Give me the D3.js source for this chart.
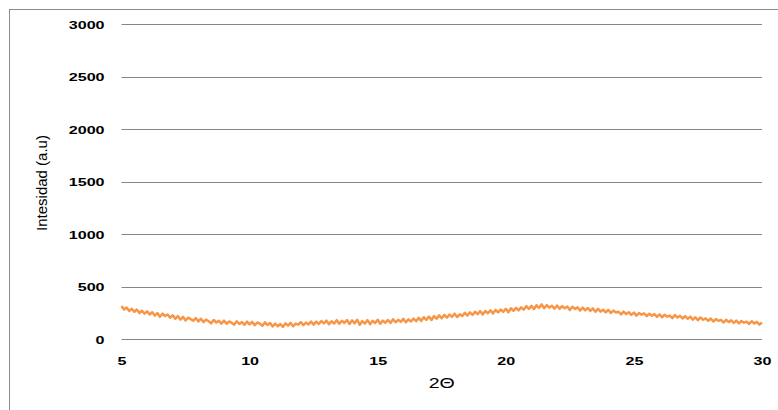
<!DOCTYPE html>
<html>
<head>
<meta charset="utf-8">
<script src="https://cdn.jsdelivr.net/npm/d3@7"></script>
<style>
    body { margin: 0; background: #ffffff; }
    svg { display: block; font-family: "Liberation Sans", Arial, sans-serif; }
</style>
</head>
<body>
<svg id="vis" width="778" height="410"></svg>
<script>
/**
 * Global Variables
 */
// 2theta sampling: first angle and step between readings
var _thetaStart = 5;
var _thetaStep = 0.1;

// intensity readings (a.u), one per 0.1 degree from 5 to 30
var _intensity = [
    318, 284, 302, 270, 290, 262, 284, 250, 272, 244,
    266, 236, 258, 226, 250, 214, 244, 222, 236, 206,
    228, 196, 220, 188, 214, 180, 206, 192, 176, 202,
    170, 196, 164, 188, 172, 152, 184, 160, 176, 150,
    178, 148, 170, 156, 140, 172, 146, 164, 138, 168,
    142, 166, 134, 160, 150, 128, 162, 136, 154, 122,
    150, 124, 146, 118, 152, 130, 156, 124, 150, 140,
    164, 134, 160, 142, 170, 140, 168, 146, 174, 152,
    178, 144, 172, 150, 182, 148, 176, 156, 184, 146,
    180, 152, 186, 138, 174, 150, 182, 144, 176, 156,
    186, 148, 178, 158, 184, 156, 190, 162, 186, 166,
    194, 162, 190, 170, 198, 172, 204, 176, 210, 186,
    216, 184, 222, 196, 228, 200, 232, 206, 236, 214,
    244, 212, 238, 222, 252, 226, 256, 232, 262, 240,
    268, 236, 270, 248, 276, 246, 280, 256, 284, 262,
    290, 258, 296, 270, 300, 276, 304, 282, 316, 290,
    318, 288, 324, 300, 332, 296, 326, 302, 320, 292,
    322, 290, 316, 296, 312, 280, 310, 288, 304, 274,
    302, 276, 298, 270, 294, 262, 290, 264, 282, 256,
    280, 250, 274, 256, 262, 238, 264, 240, 258, 232,
    254, 226, 250, 234, 246, 220, 244, 224, 240, 214,
    238, 210, 234, 216, 226, 202, 230, 208, 224, 198,
    220, 194, 216, 188, 210, 182, 208, 186, 200, 176,
    198, 170, 192, 176, 184, 160, 186, 164, 180, 156,
    178, 152, 174, 158, 168, 146, 172, 150, 166, 140,
    160
];

var _xTicks = [5, 10, 15, 20, 25, 30];
var _yTicks = [0, 500, 1000, 1500, 2000, 2500, 3000];

var _xTitle = "2\u0398";
var _yTitle = "Intesidad (a.u)";

/**
 * Do the following when the browser window loads
 */
window.onload = function(){
    let data = _intensity.map(function(v, i){
        return {theta: _thetaStart + i * _thetaStep, value: v};
    });
    drawChart(data);
};

function drawChart(data){
    let svg = d3.select("#vis");

    // outer frame of the chart
    svg.append("rect")
        .attr("x", 9.5)
        .attr("y", 9.5)
        .attr("width", 790)
        .attr("height", 420)
        .style("fill", "none")
        .style("stroke", "#8c8c8c")
        .style("stroke-width", 1);

    let left = 121.5, right = 762,
        top = 24.3, bottom = 339.3;

    let xScale = d3.scaleLinear()
        .domain([5, 30])
        .range([left, right]);

    let yScale = d3.scaleLinear()
        .domain([0, 3000])
        .range([bottom, top]);

    // horizontal gridlines
    svg.append("g")
        .selectAll("line")
        .data(_yTicks)
        .enter()
        .append("line")
        .attr("x1", left)
        .attr("x2", right)
        .attr("y1", function(d){ return Math.round(yScale(d)) + 0.5; })
        .attr("y2", function(d){ return Math.round(yScale(d)) + 0.5; })
        .style("stroke", "#868686")
        .style("stroke-width", 1);

    // y axis labels (stretched wide like the source picture)
    let yAxis = d3.axisLeft(yScale)
        .tickValues(_yTicks)
        .tickFormat(d3.format("d"))
        .tickSize(0)
        .tickPadding(0);
    let yg = svg.append("g")
        .attr("transform", `translate(${left},0)`)
        .call(yAxis);
    yg.select(".domain").remove();
    yg.selectAll("text")
        .attr("x", -12.1)
        .attr("dy", "0.36em")
        .attr("transform", "scale(1.4,1)")
        .style("font-size", "11.5px")
        .style("font-weight", "bold")
        .style("font-family", "'Liberation Sans', Arial, sans-serif")
        .style("fill", "#000");

    // x axis labels
    let xAxis = d3.axisBottom(xScale)
        .tickValues(_xTicks)
        .tickFormat(d3.format("d"))
        .tickSize(0)
        .tickPadding(0);
    let xg = svg.append("g")
        .attr("transform", `translate(0,${bottom})`)
        .call(xAxis);
    xg.select(".domain").remove();
    xg.selectAll("text")
        .attr("y", 22)
        .attr("dy", "0.36em")
        .attr("transform", "scale(1.4,1)")
        .style("font-size", "11.5px")
        .style("font-weight", "bold")
        .style("font-family", "'Liberation Sans', Arial, sans-serif")
        .style("fill", "#000");

    // intensity trace
    let line = d3.line()
        .x(function(d){ return xScale(d.theta); })
        .y(function(d){ return yScale(d.value); });

    svg.append("path")
        .datum(data)
        .attr("d", line)
        .style("fill", "none")
        .style("stroke", "#f79646")
        .style("stroke-width", 2.5)
        .style("stroke-linejoin", "round");

    // axis titles
    svg.append("text")
        .attr("transform", `translate(${(left + right) / 2},388) scale(1.4,1)`)
        .attr("text-anchor", "middle")
        .style("font-size", "14px")
        .style("fill", "#000")
        .text(_xTitle);

    svg.append("text")
        .attr("transform", "translate(47,183) rotate(-90)")
        .attr("text-anchor", "middle")
        .style("font-size", "15px")
        .style("fill", "#000")
        .text(_yTitle);
}
</script>
</body>
</html>
